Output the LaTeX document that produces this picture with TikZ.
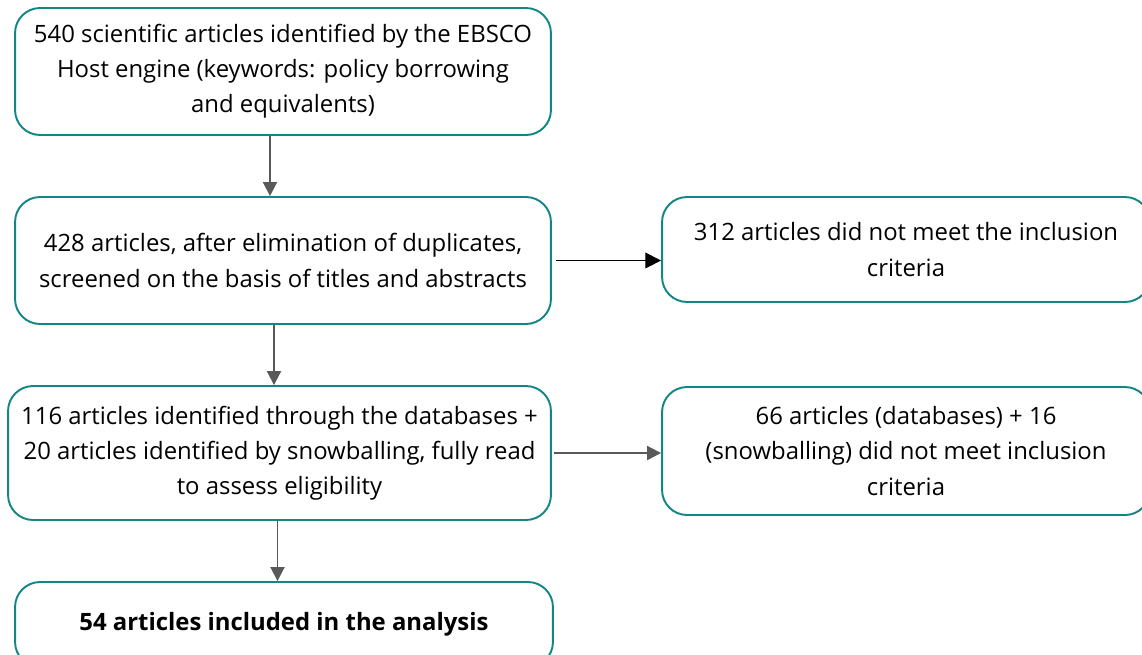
\documentclass[tikz,border=0pt]{standalone}
\usepackage{fontspec}
\setmainfont{Open Sans}
\definecolor{boxteal}{RGB}{18,134,134}
\definecolor{arrgray}{RGB}{89,89,89}
\tikzset{
  flowbox/.style={draw=boxteal, line width=1.1pt, rounded corners=0.5cm, align=center,
    font=\fontsize{13.6}{20}\selectfont, inner sep=0pt},
  grayarrow/.style={draw=arrgray, line width=1.1pt, -{Triangle[length=8pt,width=8pt]}},
  blackarrow/.style={draw=black, line width=0.8pt, -{Triangle[length=9pt,width=9pt]}}
}
\usetikzlibrary{arrows.meta}
\begin{document}
\begin{tikzpicture}[x=0.02cm,y=-0.02cm]
\useasboundingbox (0,0) rectangle (1142,654);
\node[flowbox, minimum width=10.72cm, minimum height=2.54cm] (start) at (283,71.5)
  {540 scientific articles identified by the EBSCO\\Host engine (keywords: policy borrowing\\and equivalents)};
\node[flowbox, minimum width=10.72cm, minimum height=2.54cm] (screen) at (283,260.5)
  {428 articles, after elimination of duplicates,\\screened on the basis of titles and abstracts};
\node[flowbox, minimum width=9.76cm, minimum height=2.1cm] (excl1) at (906,249.5)
  {312 articles did not meet the inclusion\\criteria};
\node[flowbox, minimum width=10.86cm, minimum height=2.68cm] (elig) at (279.5,453)
  {116 articles identified through the databases +\\20 articles identified by snowballing, fully read\\to assess eligibility};
\node[flowbox, minimum width=9.76cm, minimum height=2.56cm] (excl2) at (906,451)
  {66 articles (databases) + 16\\(snowballing) did not meet inclusion\\criteria};
\node[flowbox, minimum width=10.76cm, minimum height=1.7cm, font=\fontsize{13.6}{20}\selectfont\bfseries] (incl) at (284,624.5)
  {54 articles included in the analysis};
\draw[grayarrow] ([xshift=-0.26cm]start.south) -- ([xshift=-0.26cm]start.south |- screen.north);
\draw[grayarrow] ([xshift=-0.18cm]screen.south) -- ([xshift=-0.18cm]screen.south |- elig.north);
\draw[grayarrow] ([xshift=-0.04cm]elig.south) -- ([xshift=-0.04cm]elig.south |- incl.north);
\draw[blackarrow] ([xshift=0.08cm]screen.east) -- (screen.east -| excl1.west);
\draw[grayarrow] ([xshift=0.04cm]elig.east) -- (elig.east -| excl2.west);
\end{tikzpicture}
\end{document}
